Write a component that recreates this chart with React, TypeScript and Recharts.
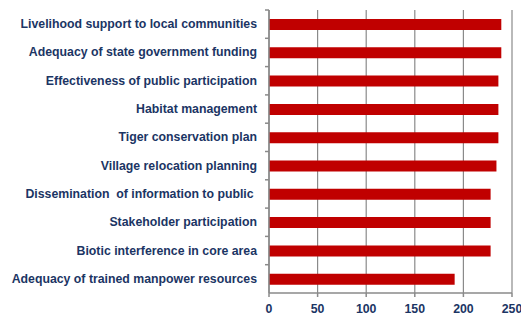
import React from "react";
import { BarChart, Bar, XAxis, YAxis, CartesianGrid } from "recharts";

const categories = [
  "Livelihood support to local communities",
  "Adequacy of state government funding",
  "Effectiveness of public participation",
  "Habitat management",
  "Tiger conservation plan",
  "Village relocation planning",
  "Dissemination  of information to public ",
  "Stakeholder participation",
  "Biotic interference in core area",
  "Adequacy of trained manpower resources",
];
const scores = [239, 239, 236, 236, 236, 234, 228, 228, 228, 191];
const xTicks = [0, 50, 100, 150, 200, 250];

const data = categories.map((name, i) => ({ name, score: scores[i] }));

const W = 521;
const H = 318;
const TOP = 10;
const X_AXIS_H = 25;
const BAND = (H - TOP - X_AXIS_H) / categories.length;
const NAVY = "#1b3564";
const GRID = "#8a8a8a";
const FONT = "'Liberation Sans', Arial, sans-serif";

// Excel-style category ticks sit between the bars, so draw them by hand
const CategoryTick = (props: any) => {
  const { x, y, payload } = props;
  return (
    <g>
      <line x1={x + 8} x2={x + 12} y1={y - BAND / 2} y2={y - BAND / 2} stroke={GRID} strokeWidth={1.5} />
      <text
        x={x}
        y={y}
        textAnchor="end"
        dominantBaseline="central"
        fill={NAVY}
        fontSize={12.3}
        fontWeight="bold"
        fontFamily={FONT}
        style={{ whiteSpace: "pre" }}
      >
        {payload.value}
      </text>
    </g>
  );
};

export default function App() {
  return (
    <div style={{ position: "absolute", left: 0, top: 0, width: W, height: H, background: "#fff" }}>
      <BarChart
        width={W}
        height={H}
        data={data}
        layout="vertical"
        margin={{ top: TOP, right: 9, bottom: 0, left: 0 }}
        barSize={11}
      >
        <CartesianGrid horizontal={false} stroke={GRID} strokeWidth={1.2} />
        <XAxis
          type="number"
          domain={[0, 250]}
          ticks={xTicks}
          interval={0}
          height={X_AXIS_H}
          stroke={GRID}
          strokeWidth={1.5}
          tickSize={4}
          tickMargin={7}
          tick={{ fill: NAVY, fontSize: 12.3, fontWeight: "bold", fontFamily: FONT }}
        />
        <YAxis
          type="category"
          dataKey="name"
          width={269}
          stroke={GRID}
          strokeWidth={1.5}
          tickLine={false}
          tickSize={0}
          tickMargin={12}
          interval={0}
          tick={<CategoryTick />}
        />
        <Bar dataKey="score" fill="#c00000" isAnimationActive={false} />
      </BarChart>
    </div>
  );
}
